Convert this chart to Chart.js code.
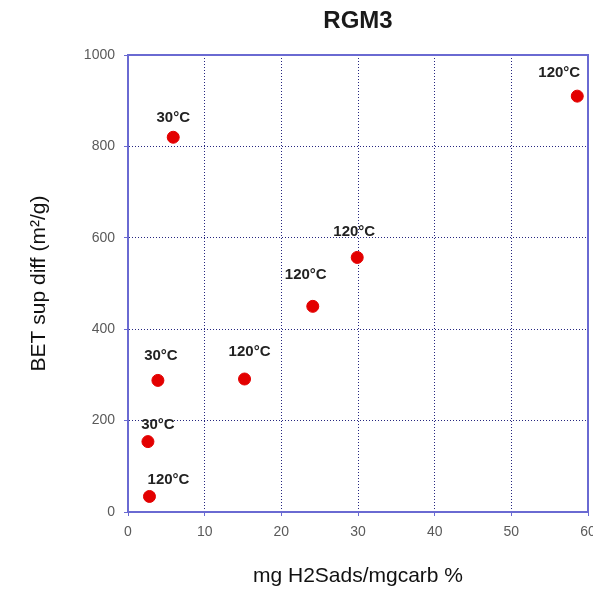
<!DOCTYPE html>
<html>
<head>
<meta charset="utf-8">
<title>RGM3</title>
<script src="https://cdn.jsdelivr.net/npm/chart.js@4/dist/chart.umd.min.js"></script>
<style>
    html, body { margin: 0; padding: 0; background: #fff; }
    #wrap { width: 593px; height: 592px; }
</style>
</head>
<body>
<div id="wrap"><canvas id="chart" width="593" height="592"></canvas></div>
<script>
// H2S adsorbed vs. BET surface difference
var h2sAds = [5.9, 3.9, 2.6, 2.8, 15.2, 24.1, 29.9, 58.6];
var betDiff = [820, 288, 154, 34, 291, 450, 557, 910];
var tempLabels = ['30°C', '30°C', '30°C', '120°C', '120°C', '120°C', '120°C', '120°C'];

// where each temperature label sits relative to its point (px)
var labelShift = [[0, -19], [3, -25], [10, -17], [19, -17], [5, -27], [-7, -31], [-3, -26], [-18, -23]];

var axisBlue = '#6a6ad2';
var gridNavy = '#262680';
var font = '"Liberation Sans", Arial, sans-serif';

var points = h2sAds.map(function (x, i) {
    return { x: x, y: betDiff[i] };
});

var chartDecor = {
    id: 'chartDecor',
    afterDraw: function (chart) {
        var ctx = chart.ctx;
        var area = chart.chartArea;

        // solid frame round the plot
        ctx.save();
        ctx.strokeStyle = axisBlue;
        ctx.lineWidth = 2;
        ctx.strokeRect(area.left, area.top, area.right - area.left, area.bottom - area.top);

        // title
        ctx.fillStyle = '#1a1a1a';
        ctx.font = 'bold 24px ' + font;
        ctx.textAlign = 'center';
        ctx.textBaseline = 'middle';
        ctx.fillText('RGM3', (area.left + area.right) / 2, 21);
        ctx.restore();
    },
    afterDatasetsDraw: function (chart) {
        var ctx = chart.ctx;
        var meta = chart.getDatasetMeta(0);

        ctx.save();
        ctx.fillStyle = '#222';
        ctx.font = 'bold 15px ' + font;
        ctx.textAlign = 'center';
        ctx.textBaseline = 'middle';
        meta.data.forEach(function (pt, i) {
            ctx.fillText(tempLabels[i], pt.x + labelShift[i][0], pt.y + labelShift[i][1]);
        });
        ctx.restore();
    }
};

var ctx = document.getElementById('chart').getContext('2d');

var chart = new Chart(ctx, {
    type: 'scatter',
    data: {
        datasets: [{
            label: 'RGM3',
            data: points,
            backgroundColor: '#e30000',
            borderColor: '#e30000',
            pointRadius: 6,
            pointHoverRadius: 6
        }]
    },
    options: {
        responsive: false,
        animation: false,
        layout: {
            autoPadding: false,
            padding: { top: 55, right: 5, bottom: 0, left: 0 }
        },
        plugins: {
            legend: { display: false },
            tooltip: { enabled: false }
        },
        scales: {
            x: {
                type: 'linear',
                min: 0,
                max: 60,
                ticks: {
                    stepSize: 10,
                    padding: 8,
                    color: '#5a5a5a',
                    font: { family: font, size: 14 }
                },
                grid: {
                    color: gridNavy,
                    lineWidth: 1,
                    tickLength: 4,
                    tickColor: axisBlue
                },
                border: {
                    color: axisBlue,
                    width: 2,
                    dash: [1, 2]
                },
                title: {
                    display: true,
                    text: 'mg H2Sads/mgcarb %',
                    color: '#111',
                    font: { family: font, size: 21 },
                    padding: { top: 0, bottom: 3 }
                },
                afterFit: function (scale) {
                    scale.height = 80;
                    scale.paddingLeft = 0;
                    scale.paddingRight = 0;
                }
            },
            y: {
                type: 'linear',
                min: 0,
                max: 1000,
                ticks: {
                    stepSize: 200,
                    padding: 9,
                    color: '#5a5a5a',
                    font: { family: font, size: 14 },
                    callback: function (value) {
                        return String(value);
                    }
                },
                grid: {
                    color: gridNavy,
                    lineWidth: 1,
                    tickLength: 4,
                    tickColor: axisBlue
                },
                border: {
                    color: axisBlue,
                    width: 2,
                    dash: [1, 2]
                },
                title: {
                    display: true,
                    text: 'BET sup diff (m²/g)',
                    color: '#111',
                    font: { family: font, size: 21 },
                    padding: { top: 27, bottom: 0 }
                },
                afterFit: function (scale) {
                    scale.width = 128;
                    scale.paddingTop = 0;
                    scale.paddingBottom = 0;
                }
            }
        }
    },
    plugins: [chartDecor]
});
</script>
</body>
</html>
